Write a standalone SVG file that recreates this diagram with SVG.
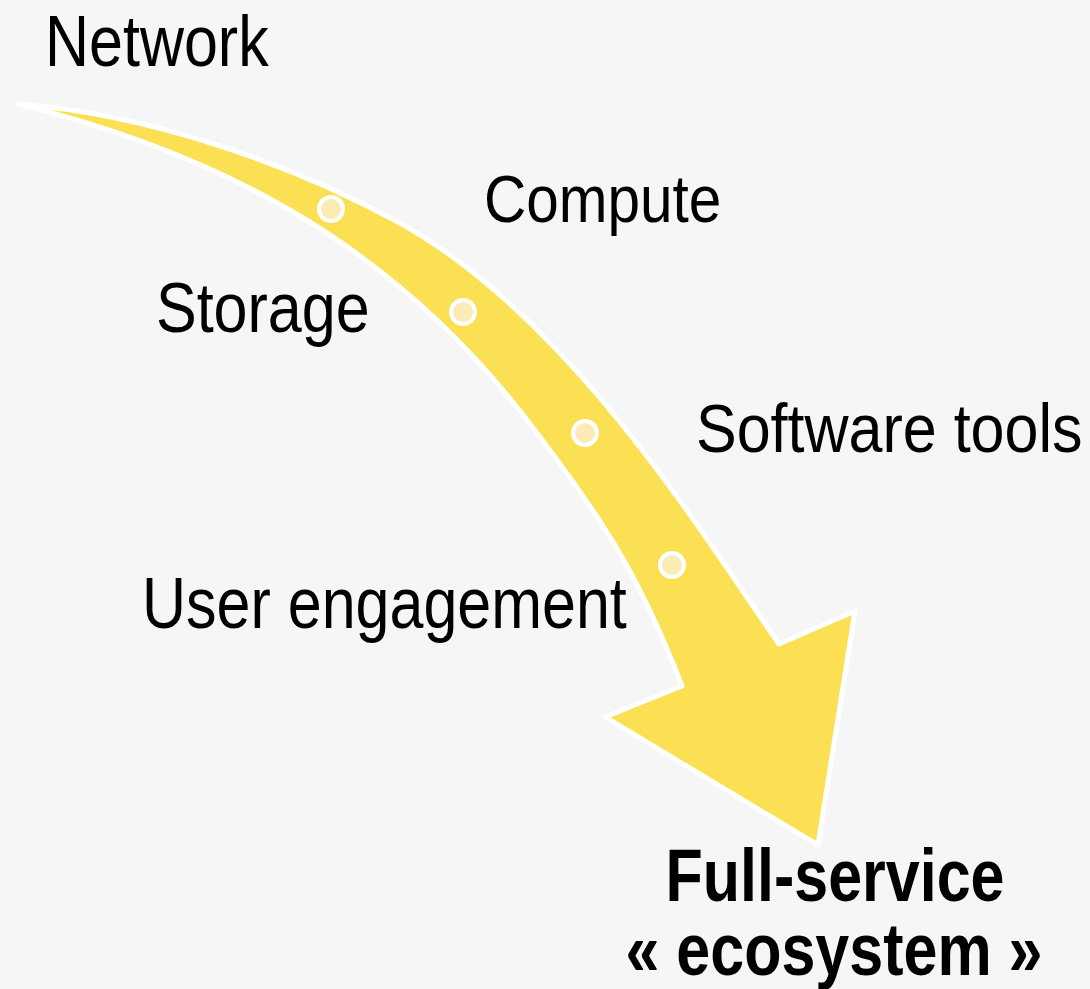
<svg xmlns="http://www.w3.org/2000/svg" width="1090" height="989" viewBox="0 0 1090 989">
<style>
.lbl{font-family:"Liberation Sans",Arial,sans-serif;font-size:61px;fill:#000}
.bold{font-weight:bold}
.dot{fill:#fdebb5;stroke:#ffffff;stroke-width:4}
</style>
<rect width="1090" height="989" fill="#f6f6f6"/>
<g id="arrow">
<path d="M18,104 C148,114 290,163 400,223 C570,318 699,529 779,644 L855,611 L818,845 L605,717 L682,686 C639,574 600,515 527,420 C387,238 212,152 18,104 Z" fill="#fbe053" stroke="#ffffff" stroke-width="5" stroke-linejoin="round"/>
</g>
<g id="dots">
<circle class="dot" cx="331" cy="209" r="12"/>
<circle class="dot" cx="463" cy="312" r="12"/>
<circle class="dot" cx="585" cy="433" r="12"/>
<circle class="dot" cx="672" cy="565" r="12"/>
</g>
<g id="network"><text class="lbl" transform="translate(45,66) scale(1,1.18)">Network</text></g>
<g id="compute"><text class="lbl" style="font-size:58.5px" transform="translate(484,222) scale(1,1.13)">Compute</text></g>
<g id="storage"><text class="lbl" transform="translate(156,332) scale(1,1.16)">Storage</text></g>
<g id="software"><text class="lbl" transform="translate(696,452) scale(1,1.13)">Software tools</text></g>
<g id="user"><text class="lbl" transform="translate(142,628) scale(1,1.18)">User engagement</text></g>
<g id="ecosystem">
<text class="lbl bold" text-anchor="middle" transform="translate(835,901) scale(1,1.2)">Full-service</text>
<text class="lbl bold" text-anchor="middle" transform="translate(834,975) scale(1,1.2)">« ecosystem »</text>
</g>
</svg>
